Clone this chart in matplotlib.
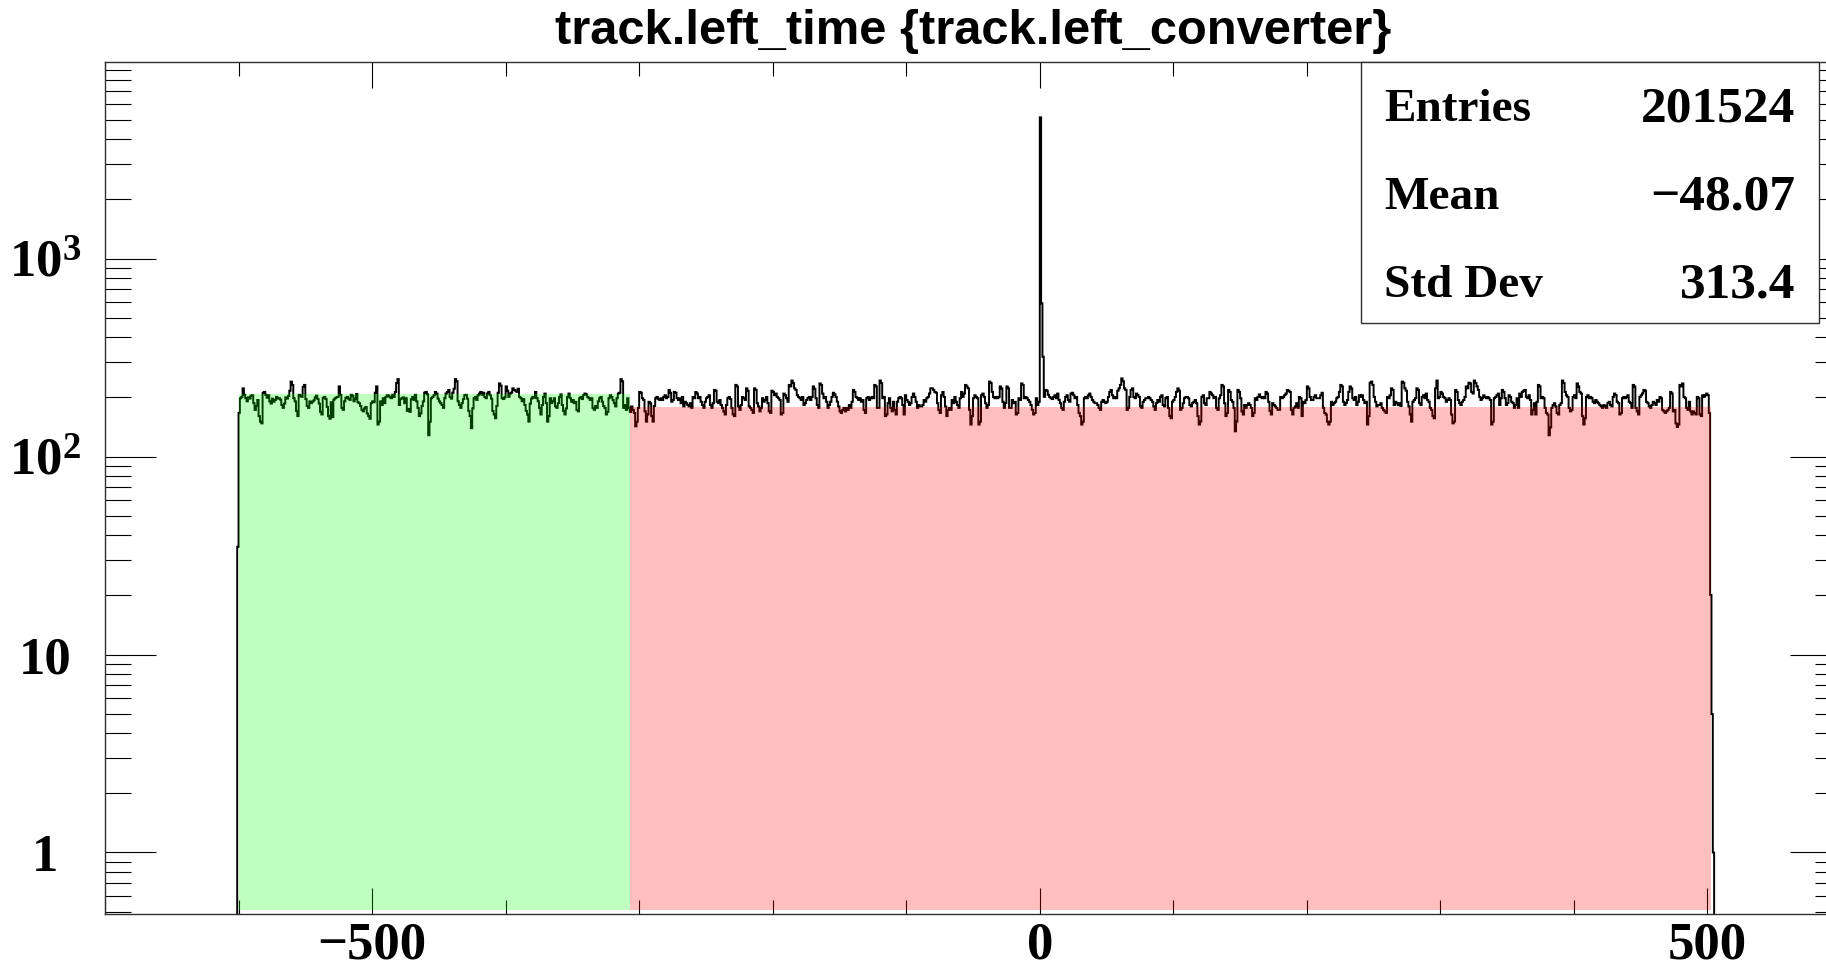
import numpy as np
import matplotlib
matplotlib.use("Agg")
import matplotlib.pyplot as plt
from matplotlib.patches import Rectangle
from matplotlib.ticker import FixedLocator, MultipleLocator, LogLocator, FuncFormatter, NullFormatter

plt.rcParams['mathtext.fontset'] = 'custom'
plt.rcParams['mathtext.rm'] = 'Liberation Serif:bold'
plt.rcParams['mathtext.bf'] = 'Liberation Serif:bold'
plt.rcParams['mathtext.it'] = 'Liberation Serif:bold'

# ---------------------------------------------------------------- data
title = "track.left_time {track.left_converter}"

first_edge = -601          # low edge of the first bin
bin_width = 1

counts_lead = [35]

# -600 .. -379
counts_a = [
    166, 197, 200, 221, 205, 197, 190, 199, 196, 203,
    204, 186, 172, 180, 193, 160, 150, 147, 210, 212,
    205, 198, 204, 190, 185, 196, 189, 193, 200, 196,
    197, 194, 182, 176, 185, 199, 196, 202, 215, 239,
    230, 197, 190, 170, 160, 205, 203, 200, 225, 230,
    195, 180, 176, 190, 186, 189, 192, 199, 203, 195,
    185, 168, 163, 198, 200, 195, 178, 160, 155, 188,
    158, 194, 197, 199, 200, 226, 205, 176, 172, 190,
    198, 200, 196, 193, 205, 203, 190, 196, 207, 188,
    186, 180, 172, 169, 175, 178, 165, 160, 155, 186,
    190, 188, 210, 226, 145, 150, 190, 182, 197, 186,
    200, 204, 203, 199, 197, 205, 200, 212, 235, 246,
    182, 195, 197, 199, 186, 197, 170, 174, 168, 195,
    200, 193, 205, 190, 176, 160, 165, 180, 190, 210,
    212, 206, 128, 150, 197, 200, 204, 212, 208, 196,
    190, 186, 182, 176, 197, 208, 212, 217, 200, 196,
    210, 220, 246, 240, 190, 182, 176, 186, 195, 204,
    205, 196, 170, 160, 139, 175, 197, 200, 193, 204,
    208, 212, 205, 210, 200, 197, 208, 212, 204, 196,
    170, 163, 156, 180, 210, 234, 228, 197, 195, 199,
    226, 215, 200, 208, 210, 221, 217, 215, 212, 220,
    200, 197, 190, 195, 182, 170, 163, 150, 185, 196,
    200, 198,
]

# -378 .. -154
counts_b = [
    212, 197, 190, 176, 163, 182, 200, 208, 186, 150,
    160, 197, 186, 190, 197, 179, 176, 186, 200, 206,
    182, 170, 163, 175, 200, 208, 197, 189, 193, 186,
    189, 172, 169, 197, 200, 195, 204, 208, 206, 200,
    197, 193, 197, 176, 172, 180, 176, 190, 197, 200,
    189, 180, 176, 163, 168, 197, 204, 200, 193, 186,
    179, 197, 208, 210, 246, 240, 176, 182, 172, 197,
    176, 168, 179, 172, 166, 142, 150, 176, 212, 210,
    197, 193, 169, 150, 163, 189, 186, 160, 150, 180,
    197, 200, 195, 193, 197, 193, 200, 204, 197, 200,
    217, 210, 189, 193, 212, 210, 197, 193, 197, 186,
    200, 179, 189, 186, 182, 179, 186, 176, 200, 197,
    212, 208, 197, 200, 189, 182, 176, 189, 197, 200,
    204, 182, 176, 186, 217, 215, 189, 186, 193, 182,
    176, 169, 163, 182, 197, 200, 195, 176, 163, 160,
    230, 226, 179, 172, 182, 200, 197, 193, 221, 215,
    179, 176, 172, 166, 221, 217, 186, 179, 169, 176,
    197, 189, 193, 200, 186, 169, 166, 215, 212, 204,
    208, 200, 197, 193, 163, 166, 208, 204, 197, 189,
    230, 226, 242, 235, 221, 217, 204, 200, 197, 193,
    200, 182, 186, 193, 197, 200, 193, 200, 226, 220,
    197, 182, 176, 234, 230, 208, 197, 200, 189, 176,
    182, 189, 200, 210, 206,
]

# -153 .. 71 (the peak sits at 0)
counts_c = [
    200, 189, 179, 169, 166, 172, 176, 169, 176, 172,
    182, 176, 189, 217, 212, 200, 197, 193, 197, 189,
    193, 172, 166, 197, 200, 193, 197, 200, 197, 230,
    226, 176, 176, 242, 235, 197, 200, 160, 163, 186,
    197, 176, 169, 189, 172, 163, 189, 197, 200, 197,
    182, 163, 204, 193, 189, 182, 186, 200, 208, 200,
    189, 176, 182, 179, 179, 182, 193, 189, 197, 200,
    208, 221, 221, 217, 212, 210, 186, 172, 166, 204,
    212, 200, 179, 160, 172, 176, 172, 193, 186, 200,
    189, 182, 176, 197, 212, 200, 208, 230, 226, 221,
    172, 145, 160, 197, 204, 200, 197, 145, 150, 204,
    208, 200, 186, 176, 182, 239, 235, 212, 200, 197,
    200, 197, 200, 226, 221, 189, 176, 186, 226, 221,
    176, 176, 193, 186, 189, 163, 166, 197, 193, 234,
    230, 197, 200, 197, 193, 189, 182, 172, 163, 166,
    197, 182, 189,
    5165, 594, 319,
    200, 217, 215, 205, 200, 197, 195, 200, 204, 197, 208, 193, 186,
    176, 172, 189, 200, 204, 193, 189, 208, 210, 204,
    197, 200, 182, 166, 160, 145, 150, 197, 200, 197,
    204, 208, 200, 193, 189, 186, 186, 182, 176, 172,
    189, 193, 189, 186, 189, 200, 212, 217, 204, 197,
    200, 197, 215, 221, 230, 248, 240, 221, 217, 172,
    176, 200, 217, 221, 200, 197,
]

# 72 .. 295
counts_d = [
    208, 204, 200, 179, 176, 189, 193, 197, 197, 200,
    197, 193, 189, 179, 172, 186, 193, 189, 200, 204,
    182, 179, 197, 200, 176, 160, 156, 189, 193, 200,
    212, 221, 215, 172, 176, 186, 197, 200, 200, 197,
    182, 179, 186, 189, 193, 186, 160, 145, 150, 200,
    204, 186, 182, 197, 197, 212, 208, 204, 197, 200,
    176, 172, 197, 204, 230, 226, 186, 160, 166, 217,
    212, 193, 189, 176, 134, 150, 217, 212, 197, 169,
    163, 182, 176, 182, 186, 182, 176, 160, 166, 197,
    193, 200, 206, 200, 197, 200, 197, 212, 208, 189,
    170, 163, 186, 182, 179, 176, 172, 172, 200, 197,
    200, 204, 208, 217, 215, 212, 172, 163, 176, 179,
    186, 176, 200, 197, 160, 189, 186, 193, 226, 221,
    200, 193, 193, 200, 204, 197, 197, 197, 204, 210,
    176, 166, 163, 150, 145, 150, 189, 182, 186, 189,
    197, 200, 212, 230, 226, 189, 182, 186, 193, 212,
    226, 221, 197, 193, 200, 182, 189, 204, 200, 204,
    193, 186, 189, 145, 160, 236, 239, 230, 200, 189,
    179, 182, 182, 186, 176, 172, 169, 166, 200, 197,
    204, 221, 217, 182, 189, 186, 182, 186, 180, 239,
    236, 221, 215, 189, 179, 163, 150, 189, 193, 197,
    221, 217, 186, 182, 200, 204, 197, 208, 193, 189,
    176, 172, 160, 156,
]

# 296 .. 501
counts_e = [
    221, 242, 197, 200, 212, 208, 200, 197, 189, 193,
    197, 193, 163, 147, 150, 217, 212, 193, 186, 182,
    189, 193, 200, 226, 221, 236, 234, 212, 208, 242,
    235, 226, 217, 200, 193, 197, 204, 200, 197, 200,
    197, 193, 145, 150, 197, 200, 204, 208, 182, 197,
    217, 212, 197, 182, 186, 204, 200, 189, 186, 176,
    182, 197, 176, 208, 200, 212, 215, 217, 200, 197,
    204, 193, 163, 172, 186, 163, 189, 230, 226, 197,
    200, 197, 176, 166, 163, 128, 140, 176, 182, 186,
    179, 166, 163, 182, 186, 242, 235, 212, 204, 200,
    176, 169, 172, 200, 204, 197, 234, 226, 212, 208,
    160, 145, 156, 200, 204, 197, 200, 197, 189, 186,
    193, 189, 186, 182, 179, 176, 182, 179, 176, 186,
    189, 182, 179, 200, 208, 204, 189, 186, 163, 166,
    197, 200, 197, 200, 204, 189, 186, 176, 230, 226,
    176, 169, 163, 200, 204, 208, 217, 215, 189, 186,
    179, 176, 182, 189, 186, 182, 193, 189, 200, 197,
    172, 169, 166, 169, 172, 176, 212, 208, 169, 172,
    147, 141, 145, 230, 226, 234, 200, 197, 176, 172,
    189, 169, 163, 169, 166, 163, 200, 197, 163, 160,
    204, 200, 204, 208, 204, 166,
]

# 502 .. 504
counts_tail = [20, 5, 1]

# shaded regions: (low edge, high edge, level)
green_band = (-600, -307, 206)
red_band = (-307, 503, 177)

stats_labels = ["Entries", "Mean", "Std Dev"]
stats_values = ["201524", "\u221248.07", "313.4"]

x_range = (-700, 600)
y_range = (0.489, 9890)
band_floor = 0.515

# ---------------------------------------------------------------- figure
W, H = 1826, 967
fig = plt.figure(figsize=(W / 100, H / 100), dpi=100)
fig.patch.set_facecolor("white")

ax_l, ax_r, ax_t, ax_b = 105, 1841, 61.5, 914
ax = fig.add_axes([ax_l / W, 1 - ax_b / H, (ax_r - ax_l) / W, (ax_b - ax_t) / H])

counts = np.array(counts_lead + counts_a + counts_b + counts_c + counts_d + counts_e + counts_tail, dtype=float)
edges = first_edge + bin_width * np.arange(len(counts) + 1)

ax.set_yscale("log")
ax.set_xlim(*x_range)
ax.set_ylim(*y_range)

ax.stairs(counts, edges, baseline=0.2, color="black", lw=1.4, zorder=2)

for (lo, hi, lvl), col in ((green_band, (0.0, 1.0, 0.0)), (red_band, (1.0, 0.0, 0.0))):
    ax.bar(lo, lvl - band_floor, bottom=band_floor, width=hi - lo, align="edge",
           color=col, alpha=0.25, lw=0, zorder=3)

# axes styling
for s in ax.spines.values():
    s.set_linewidth(1.0)
    s.set_color("#303030")

ax.xaxis.set_major_locator(FixedLocator([-500, 0, 500]))
ax.xaxis.set_minor_locator(MultipleLocator(100))
ax.yaxis.set_major_locator(FixedLocator([1, 10, 100, 1000]))
ax.yaxis.set_minor_locator(LogLocator(base=10, subs=np.arange(2, 10) / 1.0, numticks=20))
ax.yaxis.set_minor_formatter(NullFormatter())


def ylab(v, pos):
    if v < 5:
        return "1"
    if v < 50:
        return "10"
    return r"$\mathbf{10^{%d}}$" % int(round(np.log10(v)))


ax.yaxis.set_major_formatter(FuncFormatter(ylab))

ax.tick_params(axis="x", which="major", direction="in", length=18.7, width=0.8,
               top=True, bottom=True, pad=5.5)
ax.tick_params(axis="x", which="minor", direction="in", length=10, width=0.8,
               top=True, bottom=True)
ax.tick_params(axis="y", which="major", direction="in", length=37, width=0.8,
               left=True, right=True, pad=43)
ax.tick_params(axis="y", which="minor", direction="in", length=18.6, width=0.8,
               left=True, right=True)

for lab in ax.get_xticklabels() + ax.get_yticklabels():
    lab.set_fontfamily("Liberation Serif")
    lab.set_fontweight("bold")
    lab.set_fontsize(38)
for lab in ax.get_yticklabels():
    lab.set_horizontalalignment("center")

# title
fig.text((ax_l + ax_r) / 2 / W, 1 - 43.5 / H, title, ha="center", va="baseline",
         fontsize=35.2, fontweight="bold", family="Liberation Sans")

# statistics box
bx0, bx1, by0, by1 = 1361, 1819, 62, 322.7
fig.patches.append(Rectangle((bx0 / W, 1 - by1 / H), (bx1 - bx0) / W, (by1 - by0) / H,
                             transform=fig.transFigure, facecolor="white",
                             edgecolor="#303030", lw=1.0, zorder=5))
baselines = [121, 209, 297]
for lab, val, yb in zip(stats_labels, stats_values, baselines):
    fig.text(1384 / W, 1 - yb / H, lab, ha="left", va="baseline", fontsize=34,
             fontweight="bold", family="Liberation Serif", zorder=6)
    fig.text(1795 / W, 1 - yb / H, val, ha="right", va="baseline", fontsize=37,
             fontweight="bold", family="Liberation Serif", zorder=6)

fig.savefig("out.png", dpi=100)
